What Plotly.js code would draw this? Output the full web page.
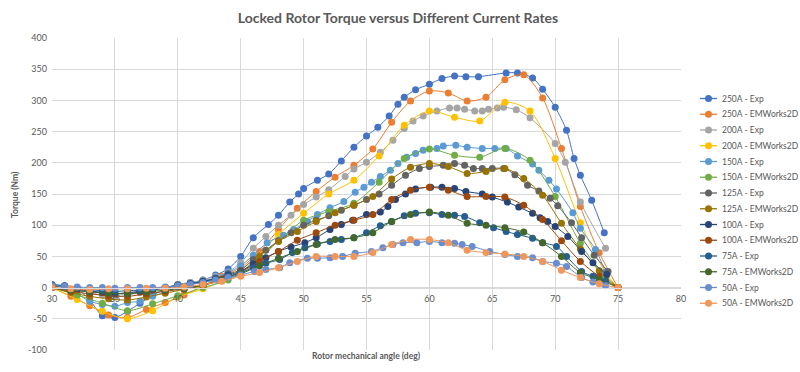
<!DOCTYPE html>
<html><head><meta charset="utf-8">
<script src="https://cdn.plot.ly/plotly-3.0.1.min.js"></script>
<style>html,body{margin:0;padding:0;background:#fff;}#chart{width:800px;height:372px;}</style>
</head><body><div id="chart"></div>
<script>
// ---- data ----
const seriesNames = ["250A - Exp","250A - EMWorks2D","200A - Exp","200A - EMWorks2D","150A - Exp","150A - EMWorks2D","125A - Exp","125A - EMWorks2D","100A - Exp","100A - EMWorks2D","75A - Exp","75A - EMWorks2D","50A - Exp","50A - EMWorks2D"];
const seriesColors = ["#4472C4","#ED7D31","#A5A5A5","#FFC000","#5B9BD5","#70AD47","#636363","#997300","#264478","#9E480E","#255E91","#43682B","#698ED0","#F1975A"];

const emAngles15 = [30,31.5,33,34.5,36,37.5,39,40.5,42,43.5,45,46.5,48,49.5,51,52.5,54,55.5,57,58.5,60,61.5,63,64.5,66,67.5,69,70.5,72,73.5,75];
const emAngles2 = [30,32,34,36,38,40,42,44,46,48,50,52,54,56,58,60,62,64,66,68,70,72,74,75];

const x250Exp = [30,31,32,33,34,35,36,37,38,39,40,41,42,43,44,45,46,47.2,48,48.9,49.6,50,51.1,52,53,54,55,55.9,56.8,57.5,58,58.9,60,61,62,62.9,63.9,66.1,67,68.2,69,70,70.9,71.5,72,72.9,73.9];
const y250Exp = [5,3,-2,-20,-45,-48,-38,-25,-12,-3,5,8,12,20,30,50,80,101,116,137,150,159,172,182,203,225,243,257,275,294,305,317,326,335,339,338,338,344,344,336,318,289,252,207,180,140,88];
const y250EM = [0,-14,-29,-44,-48,-35,-24,-12,3,18,32,58,93,127,154,177,196,222,265,299,315,312,299,305,333,341,304,223,130,56,0];

const x200Exp = [30,31,32,33,34,35,36,37,38,39,40,41,42,43,44,45,46,47,48,49,50,51,52,53.3,54,55,56.1,57.1,58,58.7,59.5,60.6,61.6,62.2,62.8,63.6,64.2,64.7,65.4,65.9,66.9,68,70,70.8,72,74];
const y200Exp = [3,2,-3,-8,-12,-15,-12,-8,-4,0,5,8,12,18,25,40,63,82,100,116,133,145,157,178,190,201,217,236,255,267,275,283,288,288,286,283,283,286,288,289,285,272,231,201,137,63];
const y200EM = [0,-19,-38,-50,-37,-15,-2,15,45,85,119,150,172,211,260,283,273,267,297,283,207,104,24,0];

const x150Exp = [30,31,32,33,34,35,36,37,38,39,40,41,42,43,44,45,46,47.1,48.4,49.2,50.3,51.1,52.1,53.2,54.1,54.8,55.4,56.1,56.9,57.5,58.2,58.9,59.5,60.6,61.1,62.1,63,64.2,65.2,66.1,67,68.2,68.7,69.5,70.1,71.4,72,73.2,74];
const y150Exp = [3,1,-10,-22,-27,-30,-24,-22,-14,-7,2,6,10,16,24,35,52,72,84,93,106,117,128,138,153,161,169,178,188,199,209,215,220,223,227,228,225,223,223,223,211,198,188,172,158,120,95,61,25];
const y150EM = [0,-12,-25,-37,-26,-13,0,12,35,75,108,122,135,169,207,222,212,209,223,204,146,71,15,0];

const x125Exp = [30,31,32,33,34,35,36,37,38,39,40,41,42,43,44,45,46,47,48,49,50,51,52,53,54,55,56,57,58.1,59.2,60,61.1,62,62.8,63.5,64.2,65,65.9,66.8,67.8,68.7,69.6,70.2,71.3,72.1,73.1,74.2];
const y125Exp = [2,1,-3,-6,-8,-10,-9,-7,-4,-1,3,6,10,15,22,28,45,60,75,88,100,108,115,124,132,141,150,164,180,191,194,196,199,196,191,191,191,191,181,164,155,143,131,104,80,52,26];
const y125EM = [0,-8,-14,-18,-20,-15,-9,-3,3,13,25,50,74,90,106,120,132,146,174,193,199,194,183,186,191,175,148,103,62,27,0];

const x100Exp = [30,31,32,33,34,35,36,37,38,39,40,41,42,43,44,45,46,47,48,49,50.1,51,52.1,53,53.9,55,56.1,56.7,57.3,58.1,58.9,60.1,61,62,62.9,64.2,65,66.2,67.1,68.2,68.8,69.4,70,71,72.1,73,74.1];
const y100Exp = [3,2,-2,-5,-8,-10,-8,-6,-3,0,4,6,10,14,20,26,38,48,58,65,72,80,93,101,108,117,121,130,141,150,158,161,161,159,154,150,145,137,129,119,112,106,98,82,58,40,21];
const y100EM = [0,-6,-10,-13,-14,-10,-6,-2,4,13,25,42,58,76,88,100,108,117,141,156,161,156,146,146,145,132,109,75,42,18,0];

const x75Exp = [30,31,32,33,34,35,36,37,38,39,40,41,42,43,44,45,46,47,48.1,49.1,50.1,51.1,52.1,53,54,55,56.1,57,58,58.9,60,61,62,62.8,64,65.1,66.1,67,68.2,69,70.1,70.9,72.1,73,74];
const y75Exp = [4,3,0,-3,-5,-6,-5,-4,-2,0,3,6,9,13,18,24,32,39,45,56,64,70,74,77,80,88,99,106,115,119,120,117,116,114,104,96,90,85,79,72,66,50,26,18,10];
const y75EM = [0,-4,-7,-9,-10,-7,-4,-1,4,12,22,35,47,58,69,77,80,88,106,117,121,116,103,100,96,89,72,50,24,13,0];

const x50Exp = [30,31,32,33,34,35,36,37,38,39,40,41,42,43,44,45,46.1,47,48.1,48.9,50.3,51.1,52.1,53.1,54.1,55.4,56.3,57.1,57.9,59,60,61,62,62.6,63.4,64.8,66,67,68.2,69,70.1,70.9,72.1,73,74];
const y50Exp = [3,2,1,0,0,-1,0,0,0,1,3,5,8,12,16,20,26,29,32,40,47,47,48,50,55,58,64,69,72,72,74,72,71,69,66,58,53,50,48,42,39,34,16,9,3];
const y50EM = [0,-2,-3,-2,-2,-1,-1,1,5,10,18,24,32,42,50,50,50,56,69,77,77,72,60,56,54,50,42,28,16,6,0];

const xTicks = [30,35,40,45,50,55,60,65,70,75,80];
const yTicks = [-100,-50,0,50,100,150,200,250,300,350,400];

const seriesX = [x250Exp, emAngles15, x200Exp, emAngles2, x150Exp, emAngles2, x125Exp, emAngles15, x100Exp, emAngles15, x75Exp, emAngles15, x50Exp, emAngles15];
const seriesY = [y250Exp, y250EM, y200Exp, y200EM, y150Exp, y150EM, y125Exp, y125EM, y100Exp, y100EM, y75Exp, y75EM, y50Exp, y50EM];

// ---- chart ----
const FONT = "Lato, 'Open Sans', sans-serif";
const TXT = "#595959";
const traces = seriesNames.map((n, i) => ({
  type: "scatter", mode: "lines+markers", name: n,
  x: seriesX[i], y: seriesY[i],
  line: {color: seriesColors[i], width: 1, shape: "spline", smoothing: 0.8},
  marker: {color: seriesColors[i], size: 7, line: {width: 0}},
  showlegend: false
}));

// plot area pixel geometry
const W = 800, H = 372, L = 52, R = 681, T = 38, B = 350;
const px2x = p => (p - L) / (R - L);
const py2y = p => (B - p) / (B - T);

const shapes = [], annotations = [];
seriesNames.forEach((n, i) => {
  const yy = py2y(98.5 + i * 15.75);
  shapes.push({type: "line", xref: "paper", yref: "paper", x0: px2x(700), x1: px2x(717), y0: yy, y1: yy,
    line: {color: seriesColors[i], width: 1.3}});
  shapes.push({type: "circle", xref: "paper", yref: "paper", xsizemode: "pixel", ysizemode: "pixel",
    xanchor: px2x(708.5), yanchor: yy, x0: -3.5, x1: 3.5, y0: -3.5, y1: 3.5,
    fillcolor: seriesColors[i], line: {color: seriesColors[i], width: 0}});
  annotations.push({xref: "paper", yref: "paper", x: px2x(720), y: yy, xanchor: "left", yanchor: "middle",
    text: n, showarrow: false, font: {family: FONT, size: 8.5, color: TXT}});
});
annotations.push({xref: "paper", yref: "paper", x: px2x(15), y: py2y(195), textangle: -90,
  text: "<b>Torque (Nm)</b>", showarrow: false, xanchor: "center", yanchor: "middle",
  font: {family: FONT, size: 8.5, color: TXT}});
annotations.push({xref: "paper", yref: "paper", x: 0.5, y: py2y(356), xanchor: "center", yanchor: "middle",
  text: "<b>Rotor mechanical angle (deg)</b>", showarrow: false,
  font: {family: FONT, size: 8.5, color: TXT}});

const layout = {
  width: W, height: H,
  margin: {l: L, r: W - R, t: T, b: H - B, pad: 0},
  paper_bgcolor: "#fff", plot_bgcolor: "#fff",
  showlegend: false,
  title: {text: "<b>Locked Rotor Torque versus Different Current Rates</b>", xref: "container", x: 398 / W,
    y: 1 - 18 / H, yanchor: "middle", font: {family: FONT, size: 14, color: TXT}},
  xaxis: {range: [30, 80], tickvals: xTicks, ticktext: xTicks.map(String), showgrid: true, gridcolor: "#D9D9D9", gridwidth: 1,
    zeroline: false, showline: true, linecolor: "#D9D9D9", linewidth: 1, ticks: "", ticklabelstandoff: 3,
    anchor: "free", position: 0.2, tickfont: {family: FONT, size: 9, color: TXT}},
  yaxis: {range: [-100, 400], tickvals: yTicks, ticktext: yTicks.map(String), showgrid: true, gridcolor: "#D9D9D9", gridwidth: 1,
    zeroline: false, showline: false, ticks: "", ticklabelstandoff: 4,
    tickfont: {family: FONT, size: 9, color: TXT}},
  shapes: shapes, annotations: annotations
};
Plotly.newPlot("chart", traces, layout, {displayModeBar: false, staticPlot: true});
</script></body></html>
